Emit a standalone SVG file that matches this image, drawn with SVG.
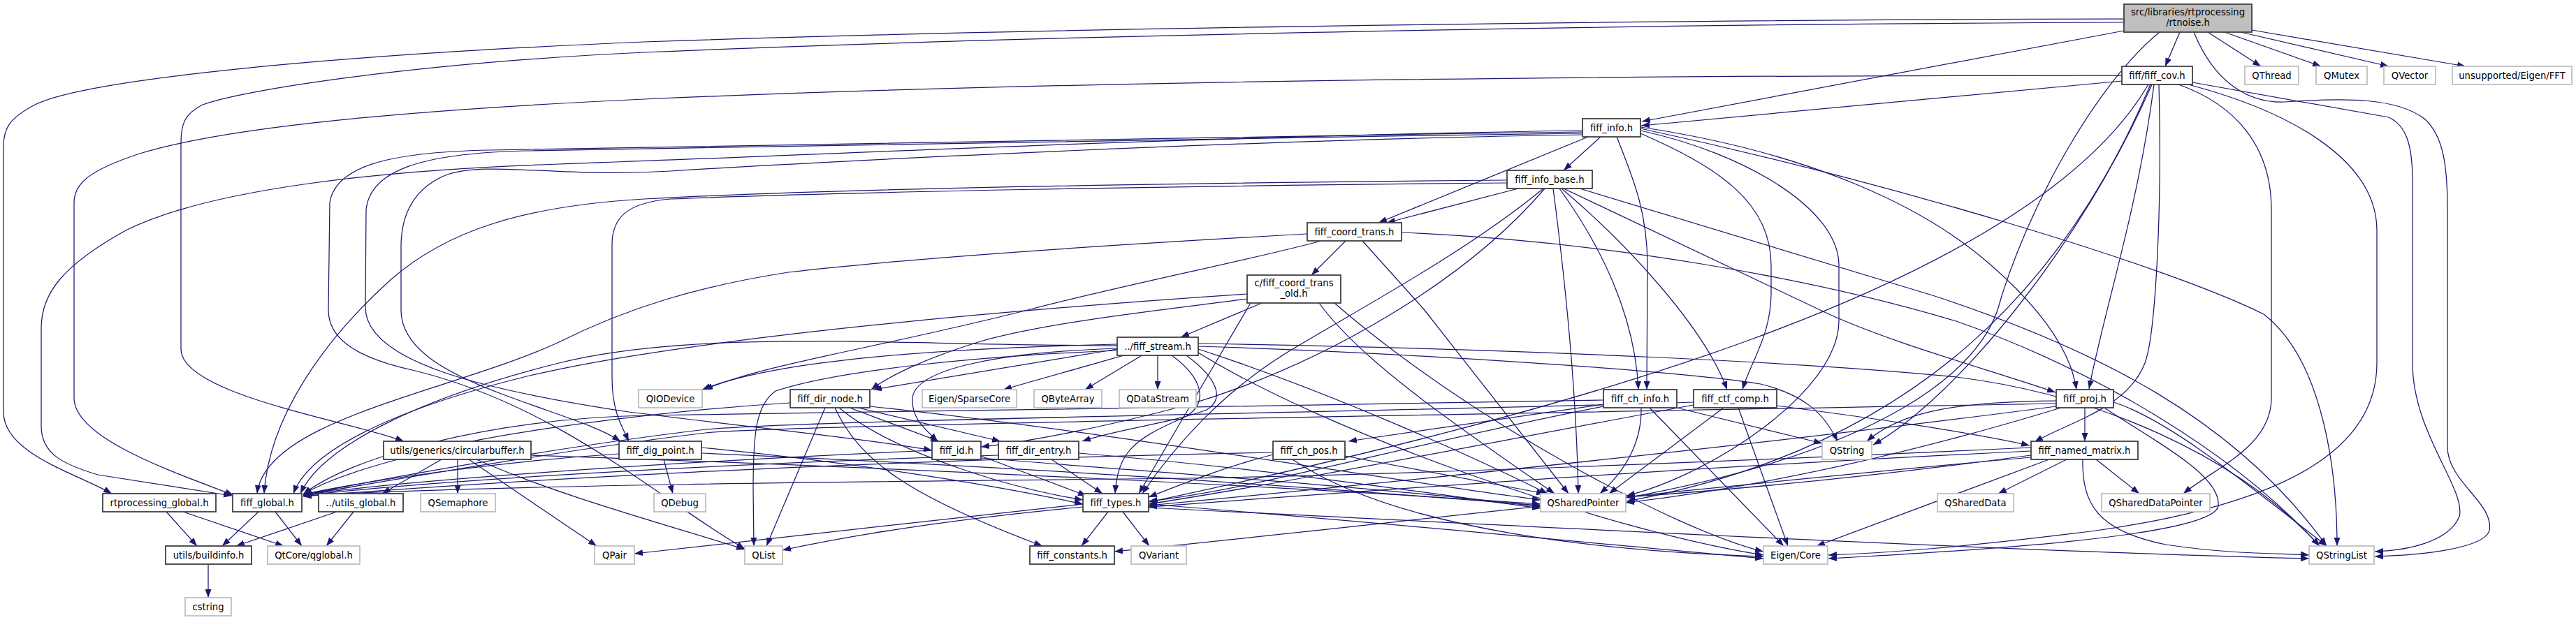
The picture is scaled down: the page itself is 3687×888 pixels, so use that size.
<svg xmlns="http://www.w3.org/2000/svg" width="3687" height="888" viewBox="0 0 3687 888">
<style>
.n rect{fill:#fff;stroke:#404040;stroke-width:1.8}
.x rect{fill:#fff;stroke:#bfbfbf;stroke-width:1.8}
.r rect{fill:#bfbfbf;stroke:#404040;stroke-width:1.8}
text{font-family:"DejaVu Sans","Liberation Sans",sans-serif;font-size:13.2px;text-anchor:middle;fill:#000}
#edges path{fill:none;stroke:#191970;stroke-width:1.25;marker-end:url(#a)}
</style>
<defs>
<marker id="a" viewBox="0 0 12 9" refX="12" refY="4.5" markerUnits="userSpaceOnUse" markerWidth="12" markerHeight="9" orient="auto" preserveAspectRatio="none"><path d="M0,0L12,4.5L0,9z" fill="#191970"/></marker>
</defs>
<rect width="3687" height="888" fill="#fff"/>
<g id="edges">
<path d="M3040,27 C2400,28 1500,40 922,60 C450,80 120,115 50,150 C12,170 5,185 5,210 L5,590 C5,650 110,678 160,707"/>
<path d="M3040,32 C2400,34 1500,50 922,75 C600,90 350,128 290,150 C264,163 259,178 259,205 L259,500 C259,565 500,603 578,632"/>
<path d="M3120,46 L3099,95"/>
<path d="M3160,46 L3236,95"/>
<path d="M3184,46 L3322,95"/>
<path d="M3207,46 L3419,95"/>
<path d="M3223,43 L3529,95"/>
<path d="M3040,44 L2350,174"/>
<path d="M3091,46 C3000,120 2900,300 2859,444 C2830,530 2700,645 2328,713"/>
<path d="M3140,46 C3170,120 3220,148 3270,146 C3360,140 3430,140 3470,170 C3498,195 3503,240 3503,300 L3503,640 C3503,690 3570,720 3563,760 C3555,785 3470,795 3399,797"/>
<path d="M3037,116 L2349,180"/>
<path d="M3037,108 C2500,108 1600,112 922,142 C600,157 330,180 200,220 C130,243 106,262 106,290 L106,570 C106,630 260,680 334,709"/>
<path d="M3083,121 C3060,300 3010,450 2990,557"/>
<path d="M3090,121 C3095,300 3085,480 3070,520 C3045,585 2960,605 2912,633"/>
<path d="M3078,121 C2960,400 2750,640 2328,718"/>
<path d="M3118,121 C3200,150 3251,210 3251,300 L3251,570 C3251,640 3170,670 3125,707"/>
<path d="M3132,121 C3280,160 3402,230 3402,330 L3402,520 C3402,640 3280,720 3000,760 C2800,785 2700,792 2617,795"/>
<path d="M3138,118 L3419,168 C3445,180 3453,210 3453,260 L3453,520 C3453,620 3530,700 3520,740 C3505,775 3450,788 3399,790"/>
<path d="M3080,121 C2980,350 2800,570 2681,637"/>
<path d="M3075,121 C2900,420 2200,600 1645,719"/>
<path d="M2291,196 L2238,244"/>
<path d="M2273,196 L1973,319"/>
<path d="M2314,196 C2335,250 2358,300 2358,380 L2357,558"/>
<path d="M2348,191 C2460,240 2535,290 2535,380 L2535,420 C2535,480 2505,520 2494,558"/>
<path d="M2348,187 C2500,220 2632,300 2632,380 L2632,460 C2632,560 2450,680 2328,710"/>
<path d="M2348,184 C2700,260 3100,380 3240,450 C3330,520 3345,690 3345,782"/>
<path d="M2348,182 C2600,220 2760,300 2850,380 C2930,450 2965,510 2972,558"/>
<path d="M2265,187 C1700,195 1100,225 800,235 C550,243 300,270 180,330 C90,380 59,420 59,470 L59,610 C59,650 90,665 140,680 L332,710"/>
<path d="M2265,189 C1700,196 1100,210 700,215 C550,218 480,240 472,290 L470,444 C470,480 500,510 590,530 C800,580 950,720 1066,786"/>
<path d="M2265,191 C1700,198 1100,212 750,216 C600,220 530,245 524,300 L523,440 C523,520 700,560 900,590 C1100,615 1250,630 1334,645"/>
<path d="M2265,193 C1800,200 1200,230 960,245 C800,255 700,230 640,250 C590,270 575,310 574,350 L574,444 C574,500 640,535 720,565 C800,595 855,610 888,632"/>
<path d="M2173,270 L1985,319"/>
<path d="M2223,270 C2240,400 2256,550 2259,707"/>
<path d="M2232,270 C2290,350 2340,450 2345,558"/>
<path d="M2235,270 C2330,350 2440,470 2472,558"/>
<path d="M2238,270 L2603,443 C2700,490 2850,530 2942,562"/>
<path d="M2261,270 L2766,423 C3000,500 3200,600 3330,782"/>
<path d="M2157,258 C1700,262 1200,270 922,285 C750,295 640,330 560,400 C460,490 385,600 378,707"/>
<path d="M2157,262 C1700,266 1200,275 960,285 C900,290 876,310 876,350 L876,540 C876,590 890,610 900,632"/>
<path d="M2209,270 C2100,360 1950,440 1850,500 C1750,560 1680,640 1635,707"/>
<path d="M2211,270 C2100,400 1900,520 1700,580 C1550,620 1450,635 1404,640"/>
<path d="M1926,345 L1877,394"/>
<path d="M1891,345 C1800,370 1600,410 1475,443 C1250,500 1100,520 1008,558"/>
<path d="M1871,335 C1600,350 1300,370 1128,390 C1000,410 900,440 800,490 C650,560 380,600 368,707"/>
<path d="M1950,345 L2038,443 L2245,707"/>
<path d="M2006,333 C2300,345 2600,400 2800,460 C3000,530 3200,650 3320,782"/>
<path d="M1806,434 L1690,483"/>
<path d="M1785,421 C1500,440 1000,480 750,540 C550,590 440,650 420,707"/>
<path d="M1790,434 C1740,520 1680,620 1630,707"/>
<path d="M1785,428 C1700,440 1500,460 1400,490 C1320,515 1270,540 1247,558"/>
<path d="M1888,434 C1950,520 2100,620 2225,707"/>
<path d="M1910,434 C2100,600 2400,760 2524,790"/>
<path d="M1599,493 C1300,500 1100,520 1005,558"/>
<path d="M1599,500 L1250,558"/>
<path d="M1612,508 L1436,558"/>
<path d="M1636,508 L1553,558"/>
<path d="M1657,508 L1657,558"/>
<path d="M1599,499 C1420,505 1310,530 1306,570 C1304,600 1325,615 1342,632"/>
<path d="M1698,509 C1740,540 1755,570 1727,587 C1680,605 1600,615 1549,632"/>
<path d="M1677,509 C1720,540 1735,580 1690,600 C1620,630 1600,650 1596,707"/>
<path d="M1599,502 C1400,510 1200,530 1110,560 C1082,580 1078,620 1078,700 L1079,782"/>
<path d="M1715,496 C2000,505 2400,530 2520,550 C2580,565 2610,590 2630,632"/>
<path d="M1715,500 C1900,560 2100,650 2215,707"/>
<path d="M1715,505 C1900,620 2300,760 2524,795"/>
<path d="M1715,492 C2200,500 2600,520 2800,540 C3000,565 3200,650 3320,782"/>
<path d="M1599,495 C1300,495 1000,470 800,520 C600,570 460,640 430,707"/>
<path d="M1181,584 L1097,782"/>
<path d="M1195,584 C1230,660 1300,710 1492,782"/>
<path d="M1201,584 C1280,650 1450,700 1550,716"/>
<path d="M1216,584 L1344,632"/>
<path d="M1228,584 L1432,632"/>
<path d="M1131,577 C950,588 700,620 600,650 C500,675 455,695 434,708"/>
<path d="M1245,582 C1600,620 2000,690 2205,716"/>
<path d="M2295,579 L1930,632"/>
<path d="M2349,584 C2350,640 2320,680 2290,707"/>
<path d="M2361,584 L2553,782"/>
<path d="M2400,584 L2608,635"/>
<path d="M2295,573 C1900,580 1300,590 922,595 C700,600 500,655 434,708"/>
<path d="M2295,582 C2000,640 1800,700 1644,718"/>
<path d="M2467,584 L2303,707"/>
<path d="M2488,584 L2559,782"/>
<path d="M2543,581 C2650,595 2800,615 2905,638"/>
<path d="M2424,576 C2000,590 1200,600 1010,615 C800,640 550,685 434,709"/>
<path d="M2424,580 C2100,640 1850,690 1644,722"/>
<path d="M2984,584 L2984,632"/>
<path d="M3025,576 C3100,600 3200,680 3330,782"/>
<path d="M3012,584 C3080,630 3180,680 3175,725 C3165,770 2800,790 2617,800"/>
<path d="M2943,574 C2800,575 2720,590 2672,632"/>
<path d="M2943,578 C2000,595 1100,610 1010,620 C800,645 550,690 434,709"/>
<path d="M2943,582 C2500,640 2000,690 1644,724"/>
<path d="M2950,584 C2700,660 2500,700 2327,720"/>
<path d="M2958,658 L2860,707"/>
<path d="M3000,658 L3062,707"/>
<path d="M2981,658 C2980,720 3000,760 3100,780 C3200,795 3270,792 3305,795"/>
<path d="M2933,658 L2600,782"/>
<path d="M2907,652 C2700,680 2500,700 2327,712"/>
<path d="M2907,641 C2500,660 2000,680 1700,685 C1200,690 700,695 434,710"/>
<path d="M2907,646 C2400,670 2000,700 1644,726"/>
<path d="M2907,655 C2400,700 1900,760 1595,790"/>
<path d="M632,658 L547,707"/>
<path d="M655,658 L655,707"/>
<path d="M671,658 L854,782"/>
<path d="M682,658 C800,710 950,750 1066,787"/>
<path d="M760,652 C1300,670 1900,700 2205,722"/>
<path d="M950,658 L963,707"/>
<path d="M1004,641 C1200,660 1400,690 1550,722"/>
<path d="M1004,649 C1500,670 1900,700 2205,724"/>
<path d="M886,650 C700,662 520,690 434,708"/>
<path d="M1404,653 L1555,710"/>
<path d="M1404,656 C1700,680 2000,700 2205,726"/>
<path d="M1334,645 C1000,660 600,685 434,709"/>
<path d="M1505,658 L1578,707"/>
<path d="M1544,649 C1800,670 2000,700 2205,728"/>
<path d="M1429,652 C1000,665 600,690 434,710"/>
<path d="M1925,653 L2211,707"/>
<path d="M1822,651 C1750,670 1700,690 1644,712"/>
<path d="M1822,648 C1200,660 700,690 434,711"/>
<path d="M1850,658 C2000,760 2300,790 2524,797"/>
<path d="M1586,733 L1548,782"/>
<path d="M1607,733 L1645,782"/>
<path d="M1550,726 C1400,740 1250,760 1120,788"/>
<path d="M1550,722 C1300,750 1100,770 908,793"/>
<path d="M1644,722 C2000,750 2300,780 2524,800"/>
<path d="M1644,727 C2300,760 2900,790 3305,800"/>
<path d="M370,733 L318,782"/>
<path d="M394,733 L432,782"/>
<path d="M238,733 L282,782"/>
<path d="M262,733 L406,782"/>
<path d="M482,733 L338,782"/>
<path d="M506,733 L467,782"/>
<path d="M298,808 L298,856"/>
</g>
<g id="n_rtnoise" class="r"><rect x="3040" y="6" width="183" height="40"/><text x="3131.5" y="21.5">src/libraries/rtprocessing</text><text x="3131.5" y="36.5">/rtnoise.h</text></g>
<g id="n_fiff_cov" class="n"><rect x="3037" y="95" width="101" height="26"/><text x="3087.5" y="112.5">fiff/fiff_cov.h</text></g>
<g id="n_qthread" class="x"><rect x="3213" y="95" width="77" height="26"/><text x="3251.5" y="112.5">QThread</text></g>
<g id="n_qmutex" class="x"><rect x="3315" y="95" width="73" height="26"/><text x="3351.5" y="112.5">QMutex</text></g>
<g id="n_qvector" class="x"><rect x="3412" y="95" width="74" height="26"/><text x="3449" y="112.5">QVector</text></g>
<g id="n_fft" class="x"><rect x="3510" y="95" width="171" height="26"/><text x="3595.5" y="112.5">unsupported/Eigen/FFT</text></g>
<g id="n_fiff_info" class="n"><rect x="2265" y="170" width="83" height="26"/><text x="2306.5" y="187.5">fiff_info.h</text></g>
<g id="n_fiff_info_base" class="n"><rect x="2157" y="244" width="122" height="26"/><text x="2218" y="261.5">fiff_info_base.h</text></g>
<g id="n_fiff_coord_trans" class="n"><rect x="1871" y="319" width="135" height="26"/><text x="1938.5" y="336.5">fiff_coord_trans.h</text></g>
<g id="n_fiff_coord_trans_old" class="n"><rect x="1785" y="394" width="134" height="40"/><text x="1852" y="409.5">c/fiff_coord_trans</text><text x="1852" y="424.5">_old.h</text></g>
<g id="n_fiff_stream" class="n"><rect x="1599" y="483" width="116" height="26"/><text x="1657" y="500.5">../fiff_stream.h</text></g>
<g id="n_qiodevice" class="x"><rect x="914" y="558" width="91" height="26"/><text x="959.5" y="575.5">QIODevice</text></g>
<g id="n_fiff_dir_node" class="n"><rect x="1131" y="558" width="114" height="26"/><text x="1188" y="575.5">fiff_dir_node.h</text></g>
<g id="n_sparsecore" class="x"><rect x="1320" y="558" width="135" height="26"/><text x="1387.5" y="575.5">Eigen/SparseCore</text></g>
<g id="n_qbytearray" class="x"><rect x="1480" y="558" width="97" height="26"/><text x="1528.5" y="575.5">QByteArray</text></g>
<g id="n_qdatastream" class="x"><rect x="1602" y="558" width="110" height="26"/><text x="1657" y="575.5">QDataStream</text></g>
<g id="n_fiff_ch_info" class="n"><rect x="2295" y="558" width="105" height="26"/><text x="2347.5" y="575.5">fiff_ch_info.h</text></g>
<g id="n_fiff_ctf_comp" class="n"><rect x="2424" y="558" width="119" height="26"/><text x="2483.5" y="575.5">fiff_ctf_comp.h</text></g>
<g id="n_fiff_proj" class="n"><rect x="2943" y="558" width="82" height="26"/><text x="2984" y="575.5">fiff_proj.h</text></g>
<g id="n_circularbuffer" class="n"><rect x="549" y="632" width="211" height="26"/><text x="654.5" y="649.5">utils/generics/circularbuffer.h</text></g>
<g id="n_fiff_dig_point" class="n"><rect x="886" y="632" width="118" height="26"/><text x="945" y="649.5">fiff_dig_point.h</text></g>
<g id="n_fiff_id" class="n"><rect x="1334" y="632" width="70" height="26"/><text x="1369" y="649.5">fiff_id.h</text></g>
<g id="n_fiff_dir_entry" class="n"><rect x="1429" y="632" width="115" height="26"/><text x="1486.5" y="649.5">fiff_dir_entry.h</text></g>
<g id="n_fiff_ch_pos" class="n"><rect x="1822" y="632" width="103" height="26"/><text x="1873.5" y="649.5">fiff_ch_pos.h</text></g>
<g id="n_qstring" class="x"><rect x="2608" y="632" width="71" height="26"/><text x="2643.5" y="649.5">QString</text></g>
<g id="n_fiff_named_matrix" class="n"><rect x="2907" y="632" width="153" height="26"/><text x="2983.5" y="649.5">fiff_named_matrix.h</text></g>
<g id="n_rtprocessing_global" class="n"><rect x="147" y="707" width="162" height="26"/><text x="228" y="724.5">rtprocessing_global.h</text></g>
<g id="n_fiff_global" class="n"><rect x="333" y="707" width="99" height="26"/><text x="382.5" y="724.5">fiff_global.h</text></g>
<g id="n_utils_global" class="n"><rect x="456" y="707" width="121" height="26"/><text x="516.5" y="724.5">../utils_global.h</text></g>
<g id="n_qsemaphore" class="x"><rect x="602" y="707" width="107" height="26"/><text x="655.5" y="724.5">QSemaphore</text></g>
<g id="n_qdebug" class="x"><rect x="936" y="707" width="74" height="26"/><text x="973" y="724.5">QDebug</text></g>
<g id="n_fiff_types" class="n"><rect x="1550" y="707" width="94" height="26"/><text x="1597" y="724.5">fiff_types.h</text></g>
<g id="n_qsharedpointer" class="x"><rect x="2205" y="707" width="122" height="26"/><text x="2266" y="724.5">QSharedPointer</text></g>
<g id="n_qshareddata" class="x"><rect x="2773" y="707" width="109" height="26"/><text x="2827.5" y="724.5">QSharedData</text></g>
<g id="n_qshareddatapointer" class="x"><rect x="3008" y="707" width="155" height="26"/><text x="3085.5" y="724.5">QSharedDataPointer</text></g>
<g id="n_buildinfo" class="n"><rect x="237" y="782" width="123" height="26"/><text x="298.5" y="799.5">utils/buildinfo.h</text></g>
<g id="n_qglobal" class="x"><rect x="383" y="782" width="132" height="26"/><text x="449" y="799.5">QtCore/qglobal.h</text></g>
<g id="n_qpair" class="x"><rect x="851" y="782" width="57" height="26"/><text x="879.5" y="799.5">QPair</text></g>
<g id="n_qlist" class="x"><rect x="1066" y="782" width="54" height="26"/><text x="1093" y="799.5">QList</text></g>
<g id="n_fiff_constants" class="n"><rect x="1474" y="782" width="121" height="26"/><text x="1534.5" y="799.5">fiff_constants.h</text></g>
<g id="n_qvariant" class="x"><rect x="1619" y="782" width="79" height="26"/><text x="1658.5" y="799.5">QVariant</text></g>
<g id="n_eigen_core" class="x"><rect x="2524" y="782" width="92" height="26"/><text x="2570" y="799.5">Eigen/Core</text></g>
<g id="n_qstringlist" class="x"><rect x="3305" y="782" width="93" height="26"/><text x="3351.5" y="799.5">QStringList</text></g>
<g id="n_cstring" class="x"><rect x="265" y="856" width="66" height="26"/><text x="298" y="873.5">cstring</text></g>
</svg>
